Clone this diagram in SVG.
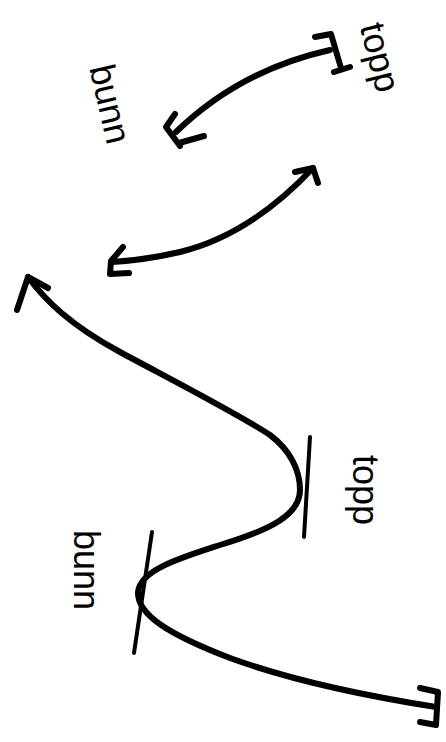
<svg xmlns="http://www.w3.org/2000/svg" width="446" height="742" viewBox="0 0 446 742">
<style>
.ink{fill:none;stroke:#000;stroke-width:6;stroke-linecap:round;stroke-linejoin:round}
.thin{fill:none;stroke:#000;stroke-width:4;stroke-linecap:round}
.lbl{font-family:"Liberation Sans",Arial,sans-serif;font-size:36px;fill:#000;text-anchor:middle}
</style>
<rect width="446" height="742" fill="#fff"/>
<g id="connectors">
  <g id="top-arrow">
    <path class="ink" d="M330,50 Q240,70 176,132"/>
    <path class="ink" d="M315,37 L331,34 L341,68 M334,72 L350,67"/>
    <path class="ink" d="M175,114 L166,127 L180,146 M179,143 L204,136"/>
  </g>
  <g id="middle-arrow">
    <path class="ink" d="M313,168 Q250,235 180,252 Q145,260 112,262"/>
    <path class="ink" d="M295,172 L313,168 L318,183"/>
    <path class="ink" d="M123,247 L111,261 L110,274 L129,273"/>
  </g>
  <g id="wave">
    <path class="ink" d="M28,277 C45,300 70,325 120,352 S240,415 270,435 C290,450 300,470 300,490 C300,515 270,530 220,545 C180,558 140,570 138,592 C137,615 170,635 230,658 C290,680 360,695 436,707"/>
    <path class="ink" d="M17,310 L28,277 L48,288"/>
    <path class="ink" d="M420,688 L438,692 L436,725 L420,722"/>
  </g>
  <path id="tangent-top" class="thin" d="M310,437 L304,537"/>
  <path id="tangent-bottom" class="thin" d="M152,532 L134,653"/>
</g>
<g id="label-topp-1"><text class="lbl" transform="translate(377,58) rotate(76)" x="0" y="9">topp</text></g>
<g id="label-bunn-1"><text class="lbl" transform="translate(110,104) rotate(77)" x="0" y="12">bunn</text></g>
<g id="label-topp-2"><text class="lbl" transform="translate(362,490) rotate(90)" x="0" y="9">topp</text></g>
<g id="label-bunn-2"><text class="lbl" transform="translate(86,570) rotate(90)" x="0" y="12">bunn</text></g>
</svg>
